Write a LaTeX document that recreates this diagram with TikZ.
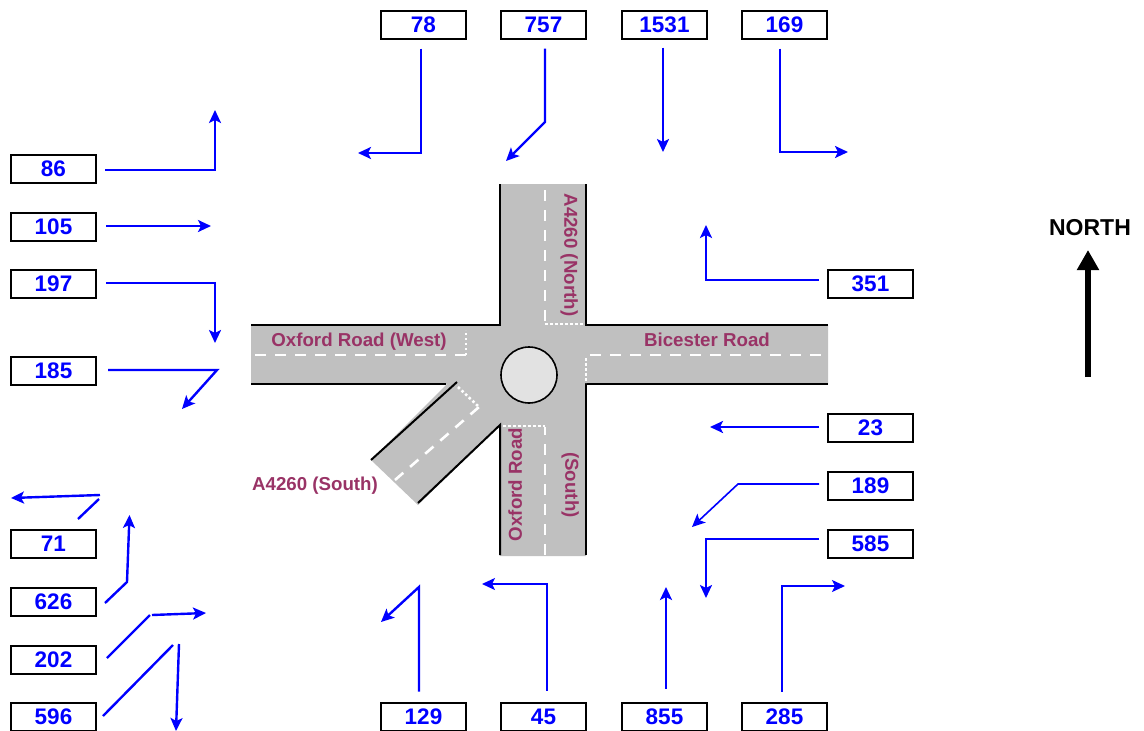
\documentclass[tikz,border=0pt]{standalone}
\usepackage{fontspec}
\setmainfont{Liberation Sans}
\usetikzlibrary{arrows.meta}
\definecolor{roadgrey}{HTML}{C0C0C0}
\definecolor{islandgrey}{HTML}{E2E2E2}
\definecolor{roadname}{HTML}{993366}
\definecolor{flowblue}{HTML}{0000FF}
\begin{document}
\begin{tikzpicture}[x=1pt,y=-1pt]
            \tikzset{
                countbox/.style={draw, line width=2pt, minimum width=85pt, minimum height=28pt, inner sep=0pt, text=flowblue, font=\fontsize{22.5}{22.5}\bfseries\selectfont},
                flow/.style={draw=flowblue, line width=2.4pt, line join=miter, -{Stealth[inset=3pt,length=13pt,width=12pt]}},
                flowpart/.style={draw=flowblue, line width=2.4pt},
                kerb/.style={line width=2pt, line join=miter},
                centreline/.style={draw=white, line width=2.6pt, dash pattern=on 11pt off 9pt},
                giveway/.style={draw=white, line width=2.6pt, dash pattern=on 2.5pt off 2.5pt},
                roadlabel/.style={text=roadname, inner sep=0pt, text height=13.5pt, text depth=4pt, font=\fontsize{18.7}{18.7}\bfseries\selectfont}
            }
            \useasboundingbox (0,0) rectangle (1144,731);

            % road surface
            \fill[roadgrey] (251,325) -- (500,325) -- (500,184) -- (586,184) -- (586,325) -- (828,325) -- (828,384) -- (586,384) -- (586,556) -- (500,556) -- (500,425) -- (418,505) -- (371,460) -- (447,384) -- (251,384) -- cycle;
            \draw[kerb] (251,325) -- (500,325) -- (500,184);
            \draw[kerb] (586,184) -- (586,325) -- (828,325);
            \draw[kerb] (251,384) -- (446,384);
            \draw[kerb] (371,460) -- (457,382);
            \draw[kerb] (828,384) -- (586,384) -- (586,555);
            \draw[kerb] (500,555) -- (500,425) -- (418,503);
            \draw node[circle, draw, line width=1.6pt, fill=islandgrey, minimum size=56pt, inner sep=0pt] (island) at (529,375) {};

            % lane markings
            \draw[centreline] (545,190) -- (545,325);
            \draw[centreline] (590,355) -- (828,355);
            \draw[centreline] (545,555) -- (545,427);
            \draw[centreline] (255,355) -- (466,355);
            \draw[centreline] (395,480) -- (479,407);
            \draw[giveway] (545,324) -- (583,324);
            \draw[giveway] (586,358) -- (586,383);
            \draw[giveway] (503,426) -- (545,426);
            \draw[giveway] (466,355) -- (466,330);
            \draw[giveway] (458,387) -- (479,407);

            % road names
            \draw node[roadlabel] (west) at (359,341.5) {Oxford Road (West)};
            \draw node[roadlabel] (east) at (707,341.5) {Bicester Road};
            \draw node[roadlabel] (sw) at (315,485.5) {A4260 (South)};
            \draw node[roadlabel, rotate=-90] (north) at (569,255) {A4260 (North)};
            \draw node[roadlabel, rotate=90] (south) at (517,484.5) {Oxford Road};
            \draw node[roadlabel, rotate=-90] (southb) at (570,485) {(South)};

            % count boxes
            \foreach \name/\x/\y in {%
                78/423.5/24.5, 757/543.5/24.5, 1531/664.5/24.5, 169/784.5/24.5,%
                86/53.5/168.5, 105/53.5/226.5, 197/53.5/283.5, 185/53.5/370.5,%
                71/53.5/543.5, 626/53.5/601.5, 202/53.5/659.5, 596/53.5/716.5,%
                351/870.5/283.5, 23/870.5/427.5, 189/870.5/485.5, 585/870.5/543.5,%
                129/423.5/716.5, 45/543.5/716.5, 855/664.5/716.5, 285/784.5/716.5%
            }{
            \draw node[countbox] (n\name) at (\x,\y) {\name};
            }

            % bends and free ends
            \foreach \name/\x/\y in {%
                b78/421/153, e78/358/153, b757/545/122, e757/506/161, e1531/663/152, b169/780/152, e169/848/152,%
                b86/215/170, e86/215/110, e105/211/226, b197/215/283, e197/215/343, b185/217/370, e185/182/409,%
                b351/706/280, e351/706/225, e23/710/427, b189/738/484, e189/692/527, b585/706/539, e585/706/598,%
                b285/782/586, e285/845/586, e855/666/587, b45/547/584, e45/482/584, b129/419/587, e129/381/622,%
                s71/78/519, m71/99/499, b71/100/495, e71/11/498,%
                s626/105/603, b626/127/582, e626/129.5/515,%
                s202/107/658, m202/150/615, b202/152/615, e202/206/613,%
                s596/103/716, m596/173/645, b596/179/644, e596/176/731%
            }{
            \coordinate (\name) at (\x,\y);
            }

            % turning flows
            \draw[flow, shorten <=9pt] (n78.south -| b78) -- (b78) -- (e78);
            \draw[flow, shorten <=9pt] (n757.south -| b757) -- (b757) -- (e757);
            \draw[flow, shorten <=8pt] (n1531.south -| e1531) -- (e1531);
            \draw[flow, shorten <=9pt] (n169.south -| b169) -- (b169) -- (e169);
            \draw[flow, shorten <=8pt] (n86.east |- b86) -- (b86) -- (e86);
            \draw[flow, shorten <=9pt] (n105.east |- e105) -- (e105);
            \draw[flow, shorten <=9pt] (n197.east |- b197) -- (b197) -- (e197);
            \draw[flow, shorten <=11pt] (n185.east |- b185) -- (b185) -- (e185);
            \draw[flow, shorten <=8pt] (n351.west |- b351) -- (b351) -- (e351);
            \draw[flow, shorten <=8pt] (n23.west |- e23) -- (e23);
            \draw[flow, line width=1.6pt, shorten <=8pt] (n189.west |- b189) -- (b189) -- (e189);
            \draw[flow, shorten <=8pt] (n585.west |- b585) -- (b585) -- (e585);
            \draw[flow, line width=1.8pt, shorten <=10pt] (n285.north -| b285) -- (b285) -- (e285);
            \draw[flow, shorten <=13pt] (n855.north -| e855) -- (e855);
            \draw[flow, line width=1.8pt, shorten <=11pt] (n45.north -| b45) -- (b45) -- (e45);
            \draw[flow, shorten <=10pt] (n129.north -| b129) -- (b129) -- (e129);

            % flows drawn in two pieces
            \draw[flowpart] (s71) -- (m71);
            \draw[flow] (b71) -- (e71);
            \draw[flow] (s626) -- (b626) -- (e626);
            \draw[flowpart] (s202) -- (m202);
            \draw[flow] (b202) -- (e202);
            \draw[flowpart] (s596) -- (m596);
            \draw[flow] (b596) -- (e596);

            % north sign
            \draw node[inner sep=0pt, font=\fontsize{23}{23}\bfseries\selectfont] (nsign) at (1090,227.5) {NORTH};
            \coordinate (ntail) at (1088,377);
            \coordinate (ntip) at (1088,250);
            \draw[line width=5.5pt, -{Triangle[length=20pt,width=21pt]}] (ntail) -- (ntip);
\end{tikzpicture}
\end{document}
